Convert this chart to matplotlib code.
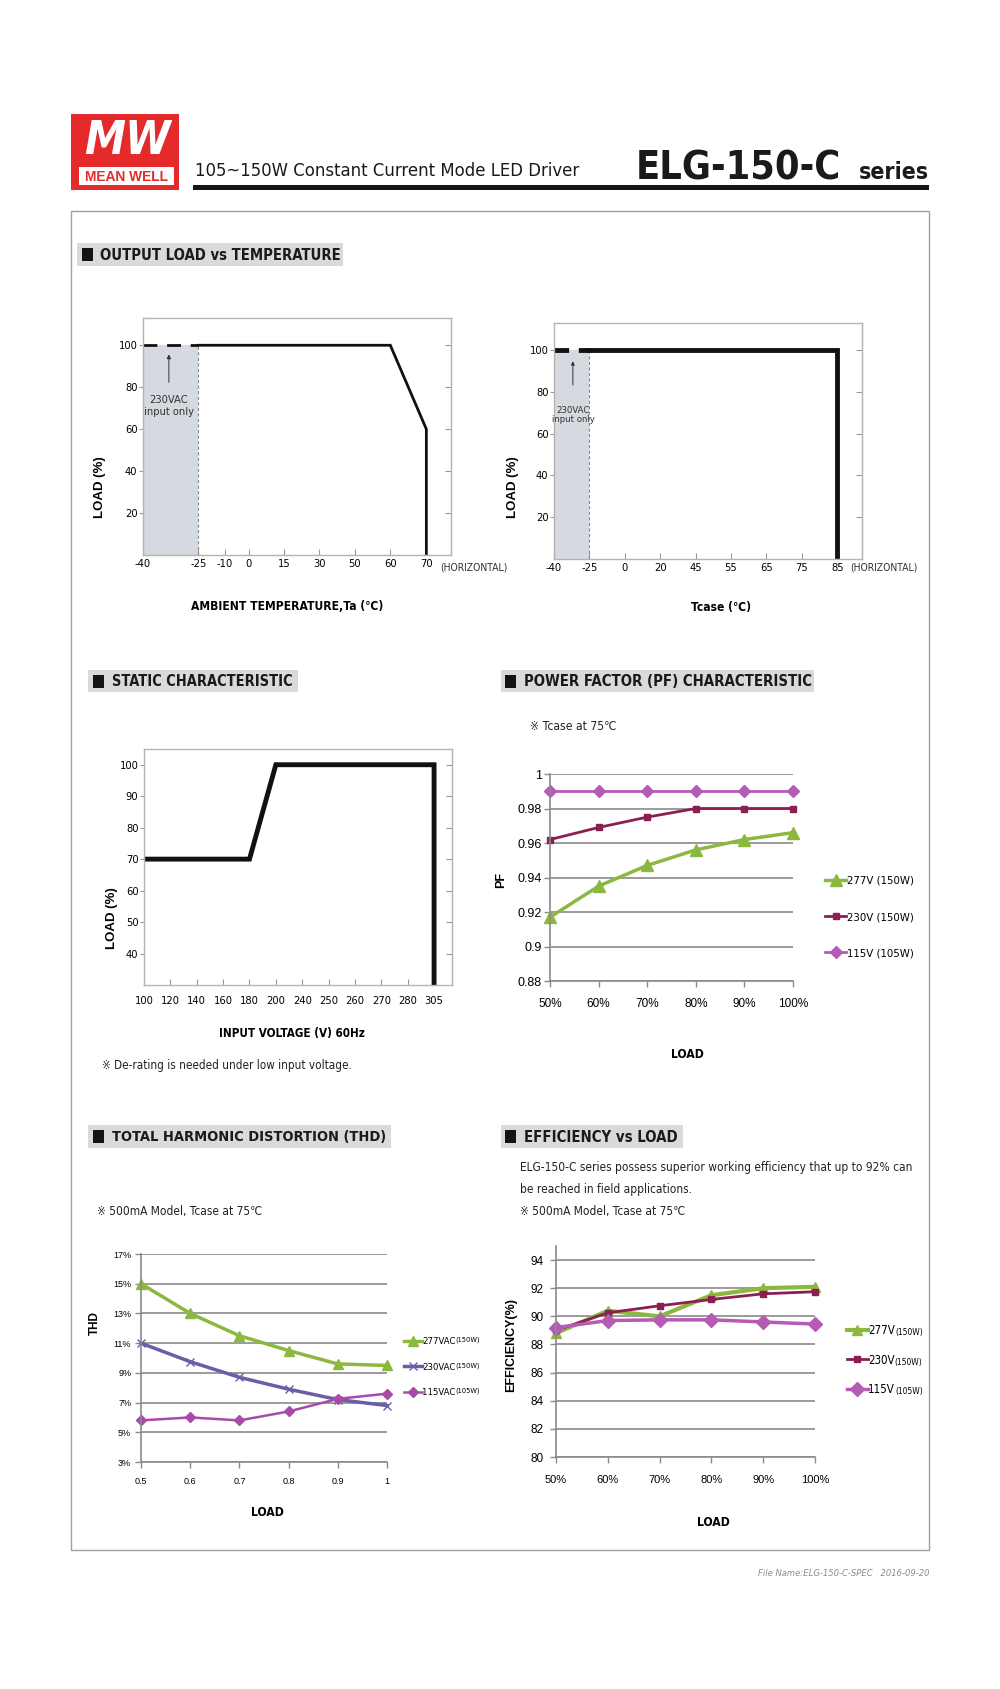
import numpy as np
import matplotlib
matplotlib.use('Agg')
import matplotlib.pyplot as plt
from matplotlib import font_manager, ticker
from matplotlib.patches import Rectangle

# ---- output load vs ambient temperature ----
amb_ticks = [-40, -25, -10, 0, 15, 30, 50, 60, 70]
amb_temp = [-25, 60, 70, 70]
amb_load = [100, 100, 60, 0]
amb_230v_temp = [-40, -25]
amb_230v_load = [100, 100]

# ---- output load vs Tcase ----
case_ticks = [-40, -25, 0, 20, 45, 55, 65, 75, 85]
case_temp = [-25, 85, 85]
case_load = [100, 100, 0]
case_230v_temp = [-40, -25]
case_230v_load = [100, 100]

# ---- static characteristic ----
vin_ticks = [100, 120, 140, 160, 180, 200, 240, 250, 260, 270, 280, 305]
vin = [100, 180, 200, 305, 305]
vin_load = [70, 70, 100, 100, 0]

# ---- PF / THD / efficiency vs load ----
load = [0.5, 0.6, 0.7, 0.8, 0.9, 1.0]
load_pct = ['50%', '60%', '70%', '80%', '90%', '100%']
load_dec = ['0.5', '0.6', '0.7', '0.8', '0.9', '1']

pf_277 = [0.917, 0.935, 0.947, 0.956, 0.962, 0.966]
pf_230 = [0.962, 0.969, 0.975, 0.980, 0.980, 0.980]
pf_115 = [0.990, 0.990, 0.990, 0.990, 0.990, 0.990]

thd_277 = [15.0, 13.0, 11.5, 10.5, 9.6, 9.5]
thd_230 = [11.0, 9.75, 8.7, 7.9, 7.2, 6.8]
thd_115 = [5.8, 6.0, 5.8, 6.4, 7.25, 7.6]

eff_277 = [88.8, 90.4, 90.0, 91.5, 92.0, 92.1]
eff_230 = [89.0, 90.25, 90.75, 91.2, 91.6, 91.75]
eff_115 = [89.2, 89.7, 89.75, 89.75, 89.6, 89.45]

# ---- fonts ----
have = {f.name for f in font_manager.fontManager.ttflist}
if 'Liberation Sans Narrow' in have:
    COND = 'Liberation Sans Narrow'
else:
    COND = 'DejaVu Sans'
    plt.rcParams['font.stretch'] = 'condensed'
plt.rcParams['font.family'] = [COND, 'DejaVu Sans', 'Noto Sans CJK SC']
XL = ['Liberation Sans', 'DejaVu Sans']

RED = '#e42a2a'
SHADE = '#d4dae0'
GRID = '#8a8a8a'
GREEN = '#8db83f'
MAROON = '#8c1f52'
ORCHID = '#b55ab5'
SLATE = '#6a5ea8'
MAGENTA = '#a84aa8'

W, H = 1000, 1689
fig = plt.figure(figsize=(W / 100, H / 100), dpi=100)
page = fig.add_axes([0, 0, 1, 1])
page.set_xlim(0, W)
page.set_ylim(H, 0)
page.axis('off')
rend = fig.canvas.get_renderer()


def fit(t, width):
    w = t.get_window_extent(rend).width
    t.set_fontsize(t.get_fontsize() * width / w)
    return t


def axes_px(box):
    l, t, r, b = box
    return fig.add_axes([l / W, 1 - b / H, (r - l) / W, (b - t) / H])


def at(box, x, y):
    l, t, r, b = box
    return (x - l) / (r - l), (b - y) / (b - t)


def warp_x(ax, ticks, fracs, end):
    k = np.array(list(ticks) + [end], float)
    f = np.array(list(fracs) + [1.0], float)
    ax.set_xscale('function', functions=(lambda x: np.interp(x, k, f),
                                         lambda y: np.interp(y, f, k)))
    ax.set_xlim(k[0], k[-1])
    ax.set_xticks(ticks)
    ax.set_xticklabels([str(v) for v in ticks])


def frame_style(ax, yticks):
    for s in ax.spines.values():
        s.set_color('#b4b4b4')
        s.set_linewidth(1)
    ax.set_yticks(yticks)
    ax.tick_params(axis='y', direction='out', length=3, width=0.8,
                   color='#9a9a9a', pad=1, labelsize=8)
    ax.tick_params(axis='x', direction='in', length=4, width=0.8,
                   color='#9a9a9a', pad=3, labelsize=8)
    sec = ax.secondary_yaxis('right')
    sec.set_yticks(yticks)
    sec.tick_params(direction='in', length=4, width=0.8, color='#9a9a9a',
                    labelright=False)
    sec.spines['right'].set_color('#b4b4b4')


def excel_style(ax, labelsize_y, labelsize_x, pad_y, pad_x):
    for s in ('top', 'right'):
        ax.spines[s].set_visible(False)
    for s in ('left', 'bottom'):
        ax.spines[s].set_color(GRID)
        ax.spines[s].set_linewidth(1.2)
    ax.yaxis.grid(True, color=GRID, lw=1.2)
    ax.set_axisbelow(True)
    ax.tick_params(axis='both', direction='out', length=4, width=1, color=GRID)
    ax.tick_params(axis='y', labelsize=labelsize_y, pad=pad_y)
    ax.tick_params(axis='x', labelsize=labelsize_x, pad=pad_x)
    for lab in ax.get_xticklabels() + ax.get_yticklabels():
        lab.set_family(XL)


def heading(x0, x1, y0, y1, sq, tx0, tx1, s):
    ym = (y0 + y1) / 2
    page.add_patch(Rectangle((x0, y0), x1 - x0, y1 - y0, color='#dadada', lw=0))
    page.add_patch(Rectangle((sq, ym - 6.5), 10.5, 13, color='#141414', lw=0))
    t = page.text(tx0, ym + 0.5, s, fontsize=13, fontweight='bold', va='center',
                  color='#1a1a1a')
    fit(t, tx1 - tx0)


# ---------------- page header ----------------
page.add_patch(Rectangle((71, 114), 108, 76, color=RED, lw=0))
page.add_patch(Rectangle((79, 167), 95, 18, facecolor='white', lw=0))
fit(page.text(126.5, 176.5, 'MEAN WELL', color=RED, fontweight='bold',
              ha='center', va='center', fontsize=12, family=XL), 83)
page.text(127, 154, 'MW', color='white', style='italic', fontweight='bold',
          ha='center', va='baseline', fontsize=33)
fit(page.text(195, 175.5, '105~150W Constant Current Mode LED Driver',
              fontsize=17, va='baseline', color='#1a1a1a'), 385)
fit(page.text(636, 179, 'ELG-150-C', fontsize=36, fontweight='bold',
              va='baseline', color='#1a1a1a'), 205)
fit(page.text(859, 179, 'series', fontsize=20, fontweight='bold',
              va='baseline', color='#1a1a1a'), 70)
page.add_patch(Rectangle((193, 185), 736, 5, color='#151515', lw=0))
page.add_patch(Rectangle((71, 211), 858, 1339, fill=False, ec='#a0a0a0', lw=1))

heading(77, 343, 243, 266, 82, 100, 340, 'OUTPUT LOAD vs TEMPERATURE')
heading(88, 298, 670, 692, 93, 112, 292, 'STATIC CHARACTERISTIC')
heading(501, 814, 670, 692, 505, 524, 812, 'POWER FACTOR (PF) CHARACTERISTIC')
heading(88, 391, 1125, 1148, 93, 112, 384, 'TOTAL HARMONIC DISTORTION (THD)')
heading(501, 683, 1125, 1148, 505, 524, 677, 'EFFICIENCY vs LOAD')

# ---------------- load vs ambient temperature ----------------
b1 = (143, 318, 451, 555)
ax1 = axes_px(b1)
warp_x(ax1, amb_ticks, [0, 0.180, 0.266, 0.344, 0.458, 0.573, 0.687, 0.803, 0.920], 77)
ax1.set_ylim(0, 113)
ax1.fill_between(amb_230v_temp, 0, amb_230v_load, color=SHADE, lw=0)
ax1.vlines(amb_230v_temp[-1], 0, amb_230v_load[-1], color='#8a8a8a', lw=0.8,
           linestyles=(0, (3, 2)))
ax1.plot(amb_230v_temp, amb_230v_load, color='#111', lw=2, dashes=(5, 3.5))
ax1.plot(amb_temp, amb_load, color='#111', lw=2, solid_joinstyle='miter')
ax1.annotate('', xy=(-33, 97), xytext=(-33, 81),
             arrowprops=dict(arrowstyle='-|>', color='#333', lw=0.7, mutation_scale=6))
ax1.text(-33, 71, '230VAC\ninput only', ha='center', va='center', fontsize=8,
         color='#333', linespacing=1.2)
frame_style(ax1, [20, 40, 60, 80, 100])
ax1.set_xlabel('AMBIENT TEMPERATURE,Ta (℃)', fontsize=11, fontweight='bold', va='center')
ax1.xaxis.set_label_coords(*at(b1, 287, 607))
fit(ax1.xaxis.label, 192)
ax1.set_ylabel('LOAD (%)', fontsize=9.5, fontweight='bold', family=XL, va='center')
ax1.yaxis.set_label_coords(*at(b1, 100, 487))
page.text(440, 567, '(HORIZONTAL)', fontsize=7.5, va='center', color='#333')

# ---------------- load vs Tcase ----------------
b2 = (554, 323, 862, 559)
ax2 = axes_px(b2)
warp_x(ax2, case_ticks, [i / 8.7 for i in range(9)], 92)
ax2.set_ylim(0, 113)
ax2.fill_between(case_230v_temp, 0, case_230v_load, color=SHADE, lw=0)
ax2.vlines(case_230v_temp[-1], 0, case_230v_load[-1], color='#8a8a8a', lw=0.8,
           linestyles=(0, (3, 2)))
ax2.plot(case_230v_temp, case_230v_load, color='#111', lw=3.5, dashes=(3, 2))
ax2.plot(case_temp, case_load, color='#111', lw=3.5, solid_joinstyle='miter')
ax2.annotate('', xy=(-32, 96), xytext=(-32, 82),
             arrowprops=dict(arrowstyle='-|>', color='#333', lw=0.7, mutation_scale=5))
ax2.text(-32, 69, '230VAC\ninput only', ha='center', va='center', fontsize=6.8,
         color='#333', linespacing=1.1)
frame_style(ax2, [20, 40, 60, 80, 100])
ax2.set_xlabel('Tcase (℃)', fontsize=11, fontweight='bold', va='center')
ax2.xaxis.set_label_coords(*at(b2, 721, 607))
fit(ax2.xaxis.label, 60)
ax2.set_ylabel('LOAD (%)', fontsize=9.5, fontweight='bold', family=XL, va='center')
ax2.yaxis.set_label_coords(*at(b2, 513, 487))
page.text(850, 568, '(HORIZONTAL)', fontsize=7.5, va='center', color='#333')

# ---------------- static characteristic ----------------
b3 = (144, 749, 452, 985)
ax3 = axes_px(b3)
warp_x(ax3, vin_ticks, [i / 11.68 for i in range(12)], 322)
ax3.set_ylim(30, 105)
ax3.plot(vin, vin_load, color='#111', lw=3.5, solid_joinstyle='miter')
frame_style(ax3, [40, 50, 60, 70, 80, 90, 100])
ax3.tick_params(axis='x', pad=8)
ax3.set_xlabel('INPUT VOLTAGE (V) 60Hz', fontsize=11, fontweight='bold', va='center')
ax3.xaxis.set_label_coords(*at(b3, 292, 1034))
fit(ax3.xaxis.label, 146)
ax3.set_ylabel('LOAD (%)', fontsize=9.5, fontweight='bold', family=XL, va='center')
ax3.yaxis.set_label_coords(*at(b3, 112, 918))
fit(page.text(102, 1066, '※ De-rating is needed under low input voltage.',
              fontsize=10, va='center', color='#222'), 247)

# ---------------- power factor ----------------
bpf = (550, 774, 793, 981)
axp = axes_px(bpf)
axp.set_xlim(0.5, 1.0)
axp.set_ylim(0.88, 1.0)
axp.set_xticks(load)
axp.set_xticklabels(load_pct)
axp.set_yticks([0.88, 0.90, 0.92, 0.94, 0.96, 0.98, 1.00])
axp.yaxis.set_major_formatter(ticker.FormatStrFormatter('%g'))
axp.plot(load, pf_277, color=GREEN, lw=2.5, marker='^', ms=8, clip_on=False,
         label='277V (150W)')
axp.plot(load, pf_230, color=MAROON, lw=2, marker='s', ms=4.5, clip_on=False,
         label='230V (150W)')
axp.plot(load, pf_115, color=ORCHID, lw=2, marker='D', ms=6, clip_on=False,
         label='115V (105W)')
excel_style(axp, 9, 8.5, 2, 8)
axp.legend(loc='center left', bbox_to_anchor=at(bpf, 819, 917), frameon=False,
           borderpad=0, handlelength=1.9, handletextpad=0.1, labelspacing=2.3,
           prop=dict(size=8.2))
axp.set_xlabel('LOAD', fontsize=11, fontweight='bold', va='center')
axp.xaxis.set_label_coords(*at(bpf, 687, 1055))
fit(axp.xaxis.label, 33)
axp.set_ylabel('PF', fontsize=9, fontweight='bold', family=XL, va='center')
axp.yaxis.set_label_coords(*at(bpf, 501, 880))
fit(page.text(530, 726, '※ Tcase at 75℃', fontsize=10, va='center', color='#222'), 87)

# ---------------- THD ----------------
bth = (141, 1254, 387, 1462)
axt = axes_px(bth)
axt.set_xlim(0.5, 1.0)
axt.set_ylim(3, 17)
axt.set_xticks(load)
axt.set_xticklabels(load_dec)
axt.set_yticks([3, 5, 7, 9, 11, 13, 15, 17])
axt.yaxis.set_major_formatter(ticker.FormatStrFormatter('%d%%'))
axt.plot(load, thd_277, color=GREEN, lw=2.5, marker='^', ms=7, clip_on=False,
         label='277VAC')
axt.plot(load, thd_230, color=SLATE, lw=2.5, marker='x', ms=6, mew=1,
         clip_on=False, label='230VAC')
axt.plot(load, thd_115, color=MAGENTA, lw=1.8, marker='D', ms=5, clip_on=False,
         label='115VAC')
excel_style(axt, 6.5, 6.5, 3, 7)
leg = axt.legend(loc='center left', bbox_to_anchor=at(bth, 399, 1367), frameon=False,
                 borderpad=0, handlelength=1.9, handletextpad=0.05, labelspacing=1.75,
                 prop=dict(size=6.8))
for t, w in zip(leg.get_texts(), ['(150W)', '(150W)', '(105W)']):
    axt.annotate(w, xy=(1, 1.05), xycoords=t, ha='left', va='top', fontsize=5.3,
                 zorder=6)
axt.set_xlabel('LOAD', fontsize=11, fontweight='bold', va='center')
axt.xaxis.set_label_coords(*at(bth, 267, 1512))
fit(axt.xaxis.label, 33)
axt.set_ylabel('THD', fontsize=8.5, fontweight='bold', family=XL, va='center')
axt.yaxis.set_label_coords(*at(bth, 95, 1323))
fit(page.text(97, 1211, '※ 500mA Model, Tcase at 75℃', fontsize=10, va='center',
              color='#222'), 165)

# ---------------- efficiency ----------------
bef = (556, 1246, 815, 1457)
axe = axes_px(bef)
axe.set_xlim(0.5, 1.0)
axe.set_ylim(80, 95)
axe.set_xticks(load)
axe.set_xticklabels(load_pct)
axe.set_yticks([80, 82, 84, 86, 88, 90, 92, 94])
axe.plot(load, eff_277, color=GREEN, lw=3, marker='^', ms=7, clip_on=False,
         label='277V')
axe.plot(load, eff_230, color=MAROON, lw=2, marker='s', ms=4, clip_on=False,
         label='230V')
axe.plot(load, eff_115, color=ORCHID, lw=2.5, marker='D', ms=7, clip_on=False,
         label='115V')
excel_style(axe, 8.5, 8, 5, 9)
leg = axe.legend(loc='center left', bbox_to_anchor=at(bef, 841, 1360), frameon=False,
                 borderpad=0, handlelength=1.8, handletextpad=0.05, labelspacing=1.45,
                 prop=dict(size=8.3))
for t, w in zip(leg.get_texts(), ['(150W)', '(150W)', '(105W)']):
    axe.annotate(w, xy=(1, 0), xycoords=t, ha='left', va='bottom', fontsize=6,
                 zorder=6)
axe.set_xlabel('LOAD', fontsize=11, fontweight='bold', va='center')
axe.xaxis.set_label_coords(*at(bef, 713, 1523))
fit(axe.xaxis.label, 33)
axe.set_ylabel('EFFICIENCY(%)', fontsize=9, fontweight='bold', family=XL, va='center')
axe.yaxis.set_label_coords(*at(bef, 511, 1345))
fit(page.text(520, 1167, 'ELG-150-C series possess superior working efficiency that up to 92% can',
              fontsize=10, va='center', color='#222'), 390)
fit(page.text(520, 1189, 'be reached in field applications.', fontsize=10, va='center',
              color='#222'), 171)
fit(page.text(520, 1211, '※ 500mA Model, Tcase at 75℃', fontsize=10, va='center',
              color='#222'), 165)

# ---------------- footer ----------------
fit(page.text(929, 1573, 'File Name:ELG-150-C-SPEC   2016-09-20', ha='right', va='center',
              style='italic', color='#8c8c8c', fontsize=7.5), 171)

fig.savefig('out.png', dpi=100)
